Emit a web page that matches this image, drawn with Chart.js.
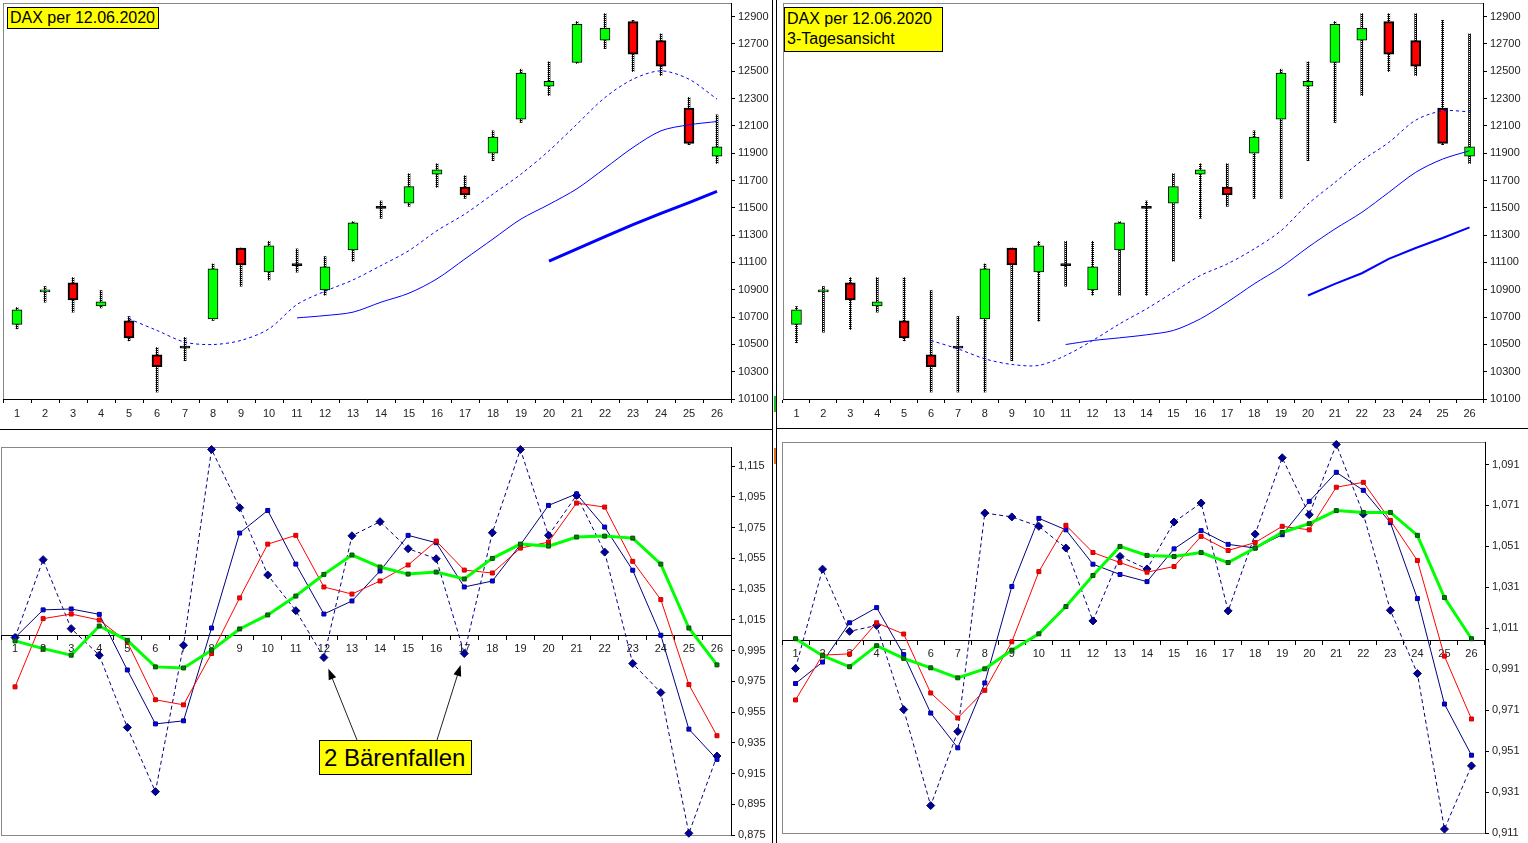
<!DOCTYPE html>
<html>
<head>
<meta charset="utf-8">
<script src="https://cdn.jsdelivr.net/npm/chart.js@4.4.1/dist/chart.umd.min.js"></script>
<style>
body { margin: 0; background: #fff; width: 1528px; height: 843px; overflow: hidden; position: relative; font-family: Arial, "Liberation Sans", sans-serif; }
canvas { position: absolute; }
.tag { position: absolute; background: #ffff00; border: 1px solid #000; color: #000; font-size: 16px; line-height: 20px; padding: 0 2px; box-sizing: border-box; white-space: nowrap; }
.line { position: absolute; background: #000; }
</style>
</head>
<body>
<canvas id="candleDay" width="772" height="428" style="left:0;top:0"></canvas>
<canvas id="candle3Day" width="752" height="428" style="left:776px;top:0"></canvas>
<canvas id="ratioDay" width="772" height="413" style="left:0;top:430px"></canvas>
<canvas id="ratio3Day" width="752" height="413" style="left:776px;top:430px"></canvas>

<div class="line" style="left:772px;top:0;width:1px;height:843px"></div>
<div class="line" style="left:776px;top:0;width:1px;height:843px"></div>
<div class="line" style="left:0;top:429px;width:772px;height:1px"></div>
<div class="line" style="left:776px;top:428px;width:752px;height:1px"></div>
<div style="position:absolute;left:774px;top:396px;width:2px;height:16px;background:#22bb22"></div>
<div style="position:absolute;left:774px;top:448px;width:2px;height:16px;background:#e07020"></div>

<div class="tag" style="left:7px;top:7px;width:152px;height:22px">DAX per 12.06.2020</div>
<div class="tag" style="left:784px;top:7px;width:159px;height:45px;padding-top:1px">DAX per 12.06.2020<br>3-Tagesansicht</div>
<div class="tag" style="left:319px;top:740px;width:153px;height:35px;font-size:24px;line-height:33px;padding-left:4px">2 Bärenfallen</div>

<script>
Chart.defaults.font.family = 'Arial, "Liberation Sans", sans-serif';
Chart.defaults.font.size = 11;
Chart.defaults.color = '#222';

const days = ['1','2','3','4','5','6','7','8','9','10','11','12','13','14','15','16','17','18','19','20','21','22','23','24','25','26'];

// Kerzen (Tagesansicht)
const dayOpen  = [10646,10884,10950,10782,10672,10424,10472,10687,11206,11031,11077,10899,11192,11496,11535,11747,11652,11901,12150,12391,12564,12727,12864,12725,12230,11879];
const dayClose = [10753,10899,10826,10811,10548,10336,10472,11053,11082,11221,11077,11067,11391,11496,11655,11779,11594,12018,12486,12427,12844,12815,12625,12537,11972,11947];
const dayHigh  = [10770,10924,10989,10894,10704,10477,10551,11089,11206,11255,11199,11143,11399,11550,11750,11823,11735,12064,12515,12569,12864,12922,12873,12774,12308,12181];
const dayLow   = [10614,10809,10736,10767,10526,10151,10380,10675,10926,10972,11029,10860,11109,11423,11511,11650,11569,11845,12125,12323,12557,12666,12498,12469,11962,11825];

// 3-Tages Hoch/Tief
const day3High = [10777,10924,10989,10989,10989,10894,10704,11089,11206,11255,11255,11255,11399,11550,11750,11823,11823,12064,12515,12569,12864,12922,12922,12922,12873,12774];
const day3Low  = [10512,10589,10609,10736,10526,10151,10151,10151,10380,10670,10926,10860,10860,10860,11109,11423,11511,11569,11569,11845,12125,12323,12498,12469,11962,11825];

// Durchschnitte links
const maShort = [null,null,null,null,10687,10602,10516,10499,10529,10614,10792,10889,10972,11077,11187,11333,11455,11601,11747,11918,12113,12308,12442,12503,12442,12296];
const maMid   = [null,null,null,null,null,null,null,null,null,null,10694,10711,10736,10809,10875,10980,11126,11272,11418,11525,11640,11790,11942,12064,12108,12132];
const maLong  = [null,null,null,null,null,null,null,null,null,null,null,null,null,null,null,null,null,null,null,11109,11199,11289,11377,11460,11538,11620];

// Durchschnitte rechts
const ma3Short = [null,null,null,null,null,10528,10467,10394,10353,10346,10419,10528,10650,10760,10882,11004,11089,11199,11333,11528,11686,11845,11979,12142,12210,12203];
const ma3Mid   = [null,null,null,null,null,null,null,null,null,null,10499,10528,10548,10570,10602,10687,10809,10943,11065,11211,11345,11467,11613,11760,11857,11918];
const ma3Long  = [null,null,null,null,null,null,null,null,null,null,null,null,null,null,null,null,null,null,null,10858,10943,11021,11126,11206,11279,11357];

// Verhaeltnisse links
const ratioDashed = [1.0035,1.0542,1.0093,0.9920,0.9450,0.9032,0.9985,1.1259,1.0880,1.0442,1.0210,0.9905,1.0697,1.0789,1.0613,1.0548,0.9931,1.0717,1.1259,1.0700,1.0960,1.0591,0.9866,0.9677,0.8761,0.9264];
const ratioBlue   = [1.0035,1.0215,1.0221,1.0186,0.9824,0.9473,0.9493,1.0097,1.0715,1.0862,1.0513,1.0188,1.0273,1.0468,1.0700,1.0652,1.0364,1.0403,1.0639,1.0895,1.0970,1.0754,1.0473,1.0050,0.9439,0.9242];
const ratioRed    = [0.9714,1.0158,1.0188,1.0149,1.0006,0.9630,0.9597,0.9931,1.0293,1.0643,1.0700,1.0364,1.0318,1.0403,1.0507,1.0663,1.0474,1.0455,1.0617,1.0656,1.0910,1.0884,1.0531,1.0282,0.9729,0.9396];
const ratioGreen  = [1.0013,0.9963,0.9920,1.0110,1.0017,0.9844,0.9837,0.9952,1.0091,1.0182,1.0305,1.0446,1.0572,1.0494,1.0448,1.0461,1.0416,1.0550,1.0643,1.0630,1.0689,1.0695,1.0682,1.0513,1.0097,0.9857];

// Verhaeltnisse rechts
const ratio3Dashed = [0.9914,1.0399,1.0095,1.0124,0.9713,0.9244,0.9606,1.0673,1.0654,1.0608,1.0502,1.0146,1.0461,1.0400,1.0629,1.0722,1.0195,1.0570,1.0943,1.0665,1.1008,1.0668,1.0198,0.9889,0.9129,0.9438];
const ratio3Blue   = [0.9840,0.9945,1.0137,1.0211,0.9981,0.9696,0.9526,0.9843,1.0314,1.0647,1.0591,1.0423,1.0373,1.0338,1.0498,1.0587,1.0520,1.0502,1.0567,1.0730,1.0872,1.0784,1.0626,1.0255,0.9740,0.9490];
const ratio3Red    = [0.9760,0.9979,0.9985,1.0137,1.0082,0.9794,0.9672,0.9807,1.0044,1.0387,1.0613,1.0480,1.0431,1.0384,1.0412,1.0559,1.0490,1.0529,1.0608,1.0591,1.0799,1.0823,1.0637,1.0441,0.9974,0.9667];
const ratio3Green  = [1.0059,0.9976,0.9922,1.0025,0.9963,0.9917,0.9868,0.9912,1.0003,1.0083,1.0216,1.0368,1.0510,1.0466,1.0461,1.0480,1.0431,1.0502,1.0578,1.0621,1.0685,1.0676,1.0676,1.0564,1.0260,1.0059];

const priceTicks  = [10100,10300,10500,10700,10900,11100,11300,11500,11700,11900,12100,12300,12500,12700,12900];
const ratioTicks  = [0.875,0.895,0.915,0.935,0.955,0.975,0.995,1.015,1.035,1.055,1.075,1.095,1.115];
const ratio3Ticks = [0.911,0.931,0.951,0.971,0.991,1.011,1.031,1.051,1.071,1.091];
const crossAt = 1.005;
const trapDays = ['12','17'];

// gestrichelte Dochte
const pat = document.createElement('canvas');
pat.width = 2; pat.height = 2;
const pc = pat.getContext('2d');
pc.fillStyle = '#000'; pc.fillRect(0, 0, 2, 2);
pc.fillStyle = '#fff'; pc.fillRect(1, 1, 1, 1);
const wickFill = pc.createPattern(pat, 'repeat');

const framePlugin = {
    id: 'frame',
    beforeDraw(chart) {
        const a = chart.chartArea, ctx = chart.ctx;
        ctx.save();
        ctx.strokeStyle = '#888';
        ctx.lineWidth = 1;
        ctx.strokeRect(Math.round(a.left) + 0.5, Math.round(a.top) + 0.5, Math.round(a.width), Math.round(a.height));
        ctx.restore();
    }
};

function bodyColor(i) {
    if (dayClose[i] > dayOpen[i]) return '#00ff00';
    if (dayClose[i] < dayOpen[i]) return '#ff0000';
    return '#000000';
}

function yAxis(min, max, list, width, fmt) {
    return {
        position: 'right',
        min: min,
        max: max,
        afterBuildTicks: s => { s.ticks = list.map(v => ({ value: v })); },
        afterFit: s => { s.width = width; s.paddingTop = 0; s.paddingBottom = 0; },
        grid: { drawOnChartArea: false, tickLength: 4, color: '#000' },
        border: { color: '#000' },
        ticks: { color: '#222', padding: 3, callback: fmt }
    };
}

function candleChart(id, highs, lows, short, mid, long, longWidth, padLeft, axisWidth) {
    new Chart(document.getElementById(id), {
        type: 'bar',
        data: {
            labels: days,
            datasets: [{
                type: 'line',
                data: short,
                borderColor: '#0000ff',
                borderWidth: 1,
                borderDash: [3, 3],
                pointRadius: 0,
                tension: 0.3,
                order: 0
            }, {
                type: 'line',
                data: mid,
                borderColor: '#0000ff',
                borderWidth: 1,
                pointRadius: 0,
                tension: 0.3,
                order: 0
            }, {
                type: 'line',
                data: long,
                borderColor: '#0000ff',
                borderWidth: longWidth,
                pointRadius: 0,
                tension: 0,
                order: 0
            }, {
                data: dayOpen.map((o, i) => [o, dayClose[i]]),
                backgroundColor: ctx => bodyColor(ctx.dataIndex),
                borderColor: '#000',
                borderWidth: ctx => dayClose[ctx.dataIndex] < dayOpen[ctx.dataIndex] ? 2 : 1,
                borderSkipped: false,
                barThickness: 10,
                minBarLength: 2,
                grouped: false,
                order: 1
            }, {
                data: lows.map((l, i) => [l, highs[i]]),
                backgroundColor: wickFill,
                borderWidth: 0,
                barThickness: 2,
                grouped: false,
                order: 2
            }]
        },
        options: {
            responsive: false,
            animation: false,
            layout: { autoPadding: false, padding: { left: padLeft, top: 3, right: 0, bottom: 0 } },
            plugins: { legend: { display: false }, tooltip: { enabled: false } },
            scales: {
                x: {
                    grid: { drawOnChartArea: false, tickLength: 4, color: '#000', offset: true },
                    border: { color: '#000' },
                    ticks: { color: '#222', padding: 4, maxRotation: 0, autoSkip: false },
                    afterFit: s => { s.height = 29; s.paddingLeft = 0; s.paddingRight = 0; }
                },
                y: yAxis(10100, 13000, priceTicks, axisWidth, v => v)
            }
        },
        plugins: [framePlugin]
    });
}

candleChart('candleDay', dayHigh, dayLow, maShort, maMid, maLong, 3, 3, 41);
candleChart('candle3Day', day3High, day3Low, ma3Short, ma3Mid, ma3Long, 2, 7, 45);

const arrowPlugin = {
    id: 'arrows',
    afterDatasetsDraw(chart) {
        const ctx = chart.ctx, xs = chart.scales.x, ys = chart.scales.y;
        const tails = [[357, 310], [437, 310]];
        trapDays.forEach((d, k) => {
            const i = days.indexOf(d);
            const px = xs.getPixelForValue(i), py = ys.getPixelForValue(ratioDashed[i]);
            const [tx, ty] = tails[k];
            const len = Math.hypot(tx - px, ty - py);
            const ux = (tx - px) / len, uy = (ty - py) / len;
            const hx = px + ux * 12, hy = py + uy * 12;
            ctx.save();
            ctx.strokeStyle = '#222';
            ctx.lineWidth = 1;
            ctx.beginPath();
            ctx.moveTo(tx, ty);
            ctx.lineTo(hx + ux * 8, hy + uy * 8);
            ctx.stroke();
            ctx.fillStyle = '#000';
            ctx.beginPath();
            ctx.moveTo(hx, hy);
            ctx.lineTo(hx + ux * 11 - uy * 4, hy + uy * 11 + ux * 4);
            ctx.lineTo(hx + ux * 11 + uy * 4, hy + uy * 11 - ux * 4);
            ctx.closePath();
            ctx.fill();
            ctx.restore();
        });
    }
};

const commaFmt = v => v.toFixed(3).replace('.', ',');

function ratioChart(id, dashed, blue, red, green, min, max, list, padLeft, padTop, padBottom, axisWidth, extra) {
    new Chart(document.getElementById(id), {
        type: 'line',
        data: {
            labels: days,
            datasets: [{
                data: green,
                borderColor: '#00ff00',
                borderWidth: 3,
                pointStyle: 'rect',
                pointRadius: 2.8,
                pointBackgroundColor: '#008000',
                pointBorderColor: '#005000',
                pointBorderWidth: 1,
                order: 0
            }, {
                data: red,
                borderColor: '#ff0000',
                borderWidth: 1,
                pointStyle: 'rect',
                pointRadius: 2.8,
                pointBackgroundColor: '#ff0000',
                pointBorderColor: '#cc0000',
                pointBorderWidth: 1,
                order: 1
            }, {
                data: blue,
                borderColor: '#000080',
                borderWidth: 1,
                pointStyle: 'rect',
                pointRadius: 2.8,
                pointBackgroundColor: '#0000ff',
                pointBorderColor: '#000080',
                pointBorderWidth: 1,
                order: 2
            }, {
                data: dashed,
                borderColor: '#000080',
                borderWidth: 1,
                borderDash: [4, 3],
                pointStyle: 'rectRot',
                pointRadius: 4,
                pointBackgroundColor: '#000099',
                pointBorderColor: '#000066',
                pointBorderWidth: 1,
                order: 3
            }]
        },
        options: {
            responsive: false,
            animation: false,
            clip: false,
            layout: { autoPadding: false, padding: { left: padLeft, top: padTop, right: 0, bottom: padBottom } },
            plugins: { legend: { display: false }, tooltip: { enabled: false } },
            scales: {
                x: {
                    position: { y: crossAt },
                    offset: true,
                    grid: { drawOnChartArea: false, tickLength: 4, color: '#000', offset: true },
                    border: { color: '#000' },
                    ticks: { color: '#222', padding: 3, maxRotation: 0, autoSkip: false },
                    afterFit: s => { s.paddingLeft = 0; s.paddingRight = 0; }
                },
                y: yAxis(min, max, list, axisWidth, commaFmt)
            }
        },
        plugins: [framePlugin].concat(extra)
    });
}

ratioChart('ratioDay', ratioDashed, ratioBlue, ratioRed, ratioGreen, 0.875, 1.1275, ratioTicks, 1, 17, 8, 41, [arrowPlugin]);
ratioChart('ratio3Day', ratio3Dashed, ratio3Blue, ratio3Red, ratio3Green, 0.911, 1.102, ratio3Ticks, 6, 12, 10, 43, []);
</script>
</body>
</html>
